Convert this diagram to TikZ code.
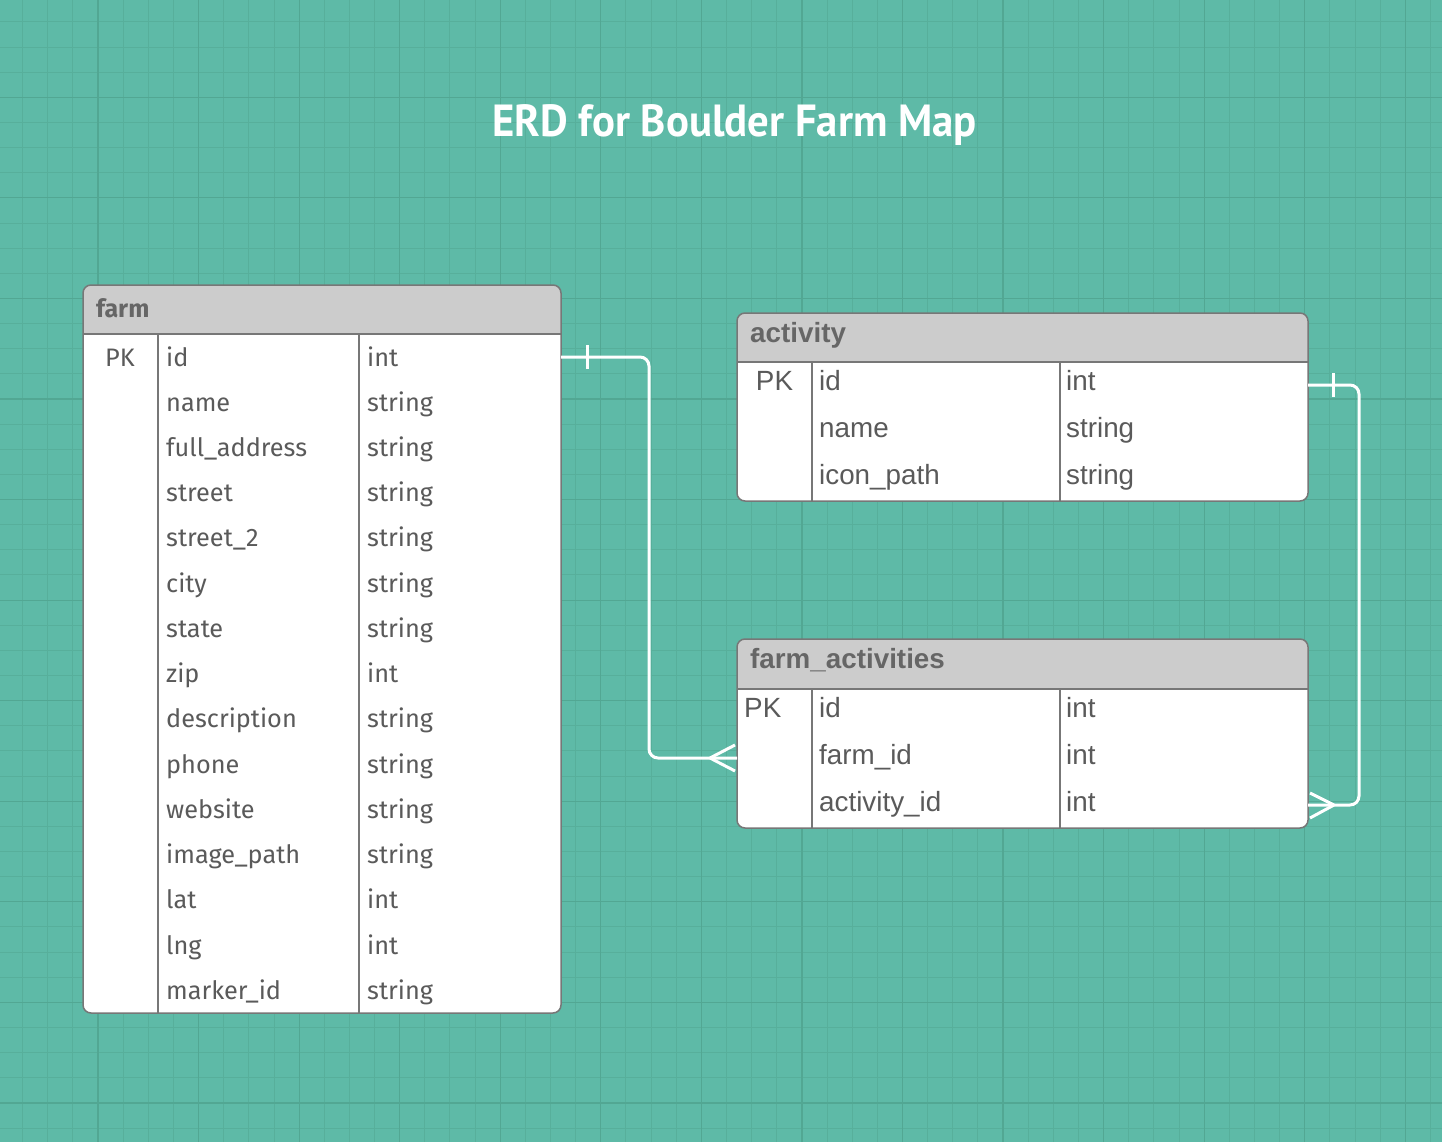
\documentclass[tikz,border=0pt]{standalone}
\usepackage{fontspec}
\setmainfont{Fira Sans}
\newfontfamily\firaf{Fira Sans}
\newfontfamily\arialf{Liberation Sans}
\newfontfamily\titlef[FakeStretch=0.95]{PT Sans}
\usetikzlibrary{calc}
\definecolor{bgc}{HTML}{5EBAA7}
\definecolor{minorc}{HTML}{57AF9B}
\definecolor{majorc}{HTML}{52A793}
\definecolor{hdrc}{HTML}{CCCCCC}
\definecolor{bordc}{HTML}{777777}
\definecolor{txtc}{HTML}{5A5A5A}
\definecolor{htxtc}{HTML}{666666}
\tikzset{
  tbox/.style={fill=white, rounded corners=8pt, inner sep=0pt, outer sep=0pt, anchor=north west},
  bord/.style={draw=bordc, line width=1.5pt},
  ftxt/.style={text=txtc, inner sep=0pt, font=\firaf\fontsize{25.3}{30}\selectfont},
  fhdr/.style={text=htxtc, inner sep=0pt, anchor=base west, font=\firaf\bfseries\fontsize{25}{30}\selectfont},
  atxt/.style={text=txtc, inner sep=0pt, font=\arialf\fontsize{27.8}{30}\selectfont},
  ahdr/.style={text=htxtc, inner sep=0pt, anchor=base west, font=\arialf\bfseries\fontsize{27.8}{30}\selectfont},
  conn/.style={draw=white, line width=3pt},
}
\begin{document}
\begin{tikzpicture}[x=1pt,y=-1pt]
\useasboundingbox (0,0) rectangle (1442,1142);
\fill[bgc] (0,0) rectangle (1442,1142);
% grid
\foreach \i in {0,...,56} {
  \pgfmathsetmacro\gx{22.6+25.14*\i}
  \draw[minorc, line width=1pt] (\gx,0) -- (\gx,1142);
}
\foreach \j in {0,...,44} {
  \pgfmathsetmacro\gy{21.9+25.14*\j}
  \draw[minorc, line width=1pt] (0,\gy) -- (1442,\gy);
}
\foreach \i in {0,...,13} {
  \pgfmathsetmacro\gx{98.0+100.56*\i}
  \draw[majorc, line width=1.2pt] (\gx,0) -- (\gx,1142);
}
\foreach \j in {0,...,10} {
  \pgfmathsetmacro\gy{97.3+100.56*\j}
  \draw[majorc, line width=1.2pt] (0,\gy) -- (1442,\gy);
}

% title
\node[anchor=base, text=white, inner sep=0pt, font=\titlef\bfseries\fontsize{45}{52}\selectfont] (title) at (734.5,137) {ERD for Boulder Farm Map};

% ---------- farm table
\node[tbox, minimum width=478pt, minimum height=728pt] (farm) at (83,285) {};
\fill[hdrc] (83,334) [rounded corners=8pt] -- (83,285) -- (561,285) [sharp corners] -- (561,334) -- cycle;
\draw[bord] (83,334) -- (561,334);
\draw[bord] (158,334) -- (158,1013);
\draw[bord] (359,334) -- (359,1013);
\draw[bord, rounded corners=8pt] (farm.north west) rectangle (farm.south east);
\node[fhdr] (farmh) at (96,317) {farm};
\node[ftxt, anchor=base] (fpk) at (120,366) {PK};
\foreach \n/\t [count=\i from 0] in {id/int, name/string, full\_address/string, street/string, street\_2/string, city/string, state/string, zip/int, description/string, phone/string, website/string, image\_path/string, lat/int, lng/int, marker\_id/string} {
  \node[ftxt, anchor=base west] (fn\i) at (166,{366+45.23*\i}) {\n};
  \node[ftxt, anchor=base west] (ft\i) at (367,{366+45.23*\i}) {\t};
}

% ---------- activity table
\node[tbox, minimum width=571pt, minimum height=188pt] (act) at (737,313) {};
\fill[hdrc] (737,362) [rounded corners=8pt] -- (737,313) -- (1308,313) [sharp corners] -- (1308,362) -- cycle;
\draw[bord] (737,362) -- (1308,362);
\draw[bord] (812,362) -- (812,501);
\draw[bord] (1060,362) -- (1060,501);
\draw[bord, rounded corners=8pt] (act.north west) rectangle (act.south east);
\node[ahdr] (acth) at (750,342) {activity};
\node[atxt, anchor=base] (apk) at (774.5,390) {PK};
\foreach \n/\t [count=\i from 0] in {id/int, name/string, icon\_path/string} {
  \node[atxt, anchor=base west] (an\i) at (819,{390+47*\i}) {\n};
  \node[atxt, anchor=base west] (at\i) at (1066,{390+47*\i}) {\t};
}

% ---------- farm_activities table
\node[tbox, minimum width=571pt, minimum height=189pt] (fa) at (737,639) {};
\fill[hdrc] (737,689) [rounded corners=8pt] -- (737,639) -- (1308,639) [sharp corners] -- (1308,689) -- cycle;
\draw[bord] (737,689) -- (1308,689);
\draw[bord] (812,689) -- (812,828);
\draw[bord] (1060,689) -- (1060,828);
\draw[bord, rounded corners=8pt] (fa.north west) rectangle (fa.south east);
\node[ahdr] (fah) at (750,668) {farm\_activities};
\node[atxt, anchor=base west] (fapk) at (744,717) {PK};
\foreach \n/\t [count=\i from 0] in {id/int, farm\_id/int, activity\_id/int} {
  \node[atxt, anchor=base west] (fan\i) at (819,{717+47*\i}) {\n};
  \node[atxt, anchor=base west] (fat\i) at (1066,{717+47*\i}) {\t};
}

% ---------- connectors
\coordinate (c1s) at (farm.east |- 0,357);
\coordinate (c1v) at (649,550);
\coordinate (c1e) at (fa.west |- 0,758);
\draw[conn, rounded corners=9pt] (c1s) -| (c1v) |- (c1e);
\draw[conn] ($(c1s)+(26,-12)$) -- ($(c1s)+(26,12)$);
\draw[conn] ($(c1e)+(-27,0)$) -- ($(c1e)+(-2,-13)$);
\draw[conn] ($(c1e)+(-27,0)$) -- ($(c1e)+(-2,13)$);

\coordinate (c2s) at (act.east |- 0,385);
\coordinate (c2v) at (1359,600);
\coordinate (c2e) at (fa.east |- 0,805);
\draw[conn, rounded corners=9pt] (c2s) -| (c2v) |- (c2e);
\draw[conn] ($(c2s)+(25,-12)$) -- ($(c2s)+(25,12)$);
\draw[conn] ($(c2e)+(26,0)$) -- ($(c2e)+(2,-12)$);
\draw[conn] ($(c2e)+(26,0)$) -- ($(c2e)+(2,13)$);
\end{tikzpicture}
\end{document}
